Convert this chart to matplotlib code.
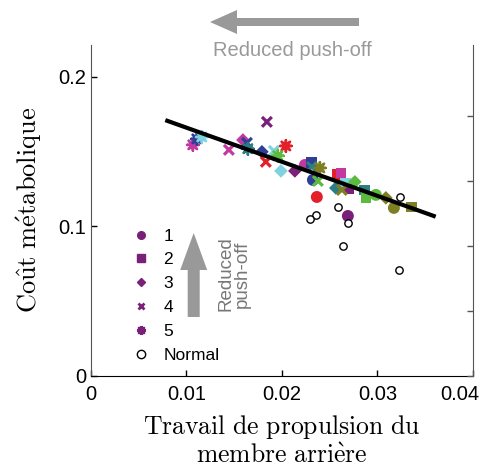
import matplotlib.pyplot as plt
import matplotlib.patches as mpatches
import matplotlib.transforms as mtransforms
from matplotlib.lines import Line2D

plt.rcParams['font.family'] = ['Liberation Sans', 'DejaVu Sans']
plt.rcParams['mathtext.fontset'] = 'cm'

# subject colours
magenta = '#c23a9f'
darkblue = '#2f3e98'
lightblue = '#80d2df'
teal = '#2b7f84'
red = '#e3202a'
green = '#5cbb3e'
olive = '#7e7e22'
purple = '#7b2079'

# condition 1 (circles)
c1_x = [0.02241, 0.02325, 0.02366, 0.02984, 0.03173, 0.02691]
c1_y = [0.1409, 0.1309, 0.1195, 0.1209, 0.1122, 0.1068]
c1_col = [magenta, darkblue, red, green, olive, purple]

# condition 2 (squares)
c2_x = [0.02576, 0.02618, 0.02314, 0.02670, 0.02702, 0.02869, 0.02880, 0.03361]
c2_y = [0.1343, 0.1356, 0.1423, 0.1288, 0.1249, 0.1242, 0.1189, 0.1128]
c2_col = [red, magenta, darkblue, lightblue, purple, teal, green, olive]

# condition 3 (diamonds)
c3_x = [0.01592, 0.01791, 0.01990, 0.02136, 0.02565, 0.02764, 0.03089]
c3_y = [0.1576, 0.1497, 0.1369, 0.1369, 0.1255, 0.1296, 0.1189]
c3_col = [magenta, darkblue, lightblue, purple, teal, green, olive]

# condition 4 (crosses)
c4_x = [0.01445, 0.01843, 0.01832, 0.01916, 0.02314, 0.02377, 0.02628, 0.01634]
c4_y = [0.1510, 0.1697, 0.1430, 0.1503, 0.1396, 0.1302, 0.1242, 0.1557]
c4_col = [magenta, purple, red, lightblue, teal, green, olive, darkblue]

# condition 5 (asterisks)
c5_x = [0.01068, 0.01110, 0.01162, 0.01644, 0.02042, 0.01958, 0.02398]
c5_y = [0.1543, 0.1583, 0.1596, 0.1517, 0.1536, 0.1470, 0.1389]
c5_col = [magenta, darkblue, lightblue, teal, red, green, olive]

# normal walking
normal_x = [0.03236, 0.02586, 0.02356, 0.02293, 0.02691, 0.02639, 0.03225]
normal_y = [0.1196, 0.1128, 0.1073, 0.1048, 0.1021, 0.0868, 0.0708]

# regression line
fit_x = [0.0080, 0.0359]
fit_y = [0.1704, 0.1068]

fig = plt.figure(figsize=(4.86, 4.72), dpi=100)
ax = fig.add_axes([0.187, 0.204, 0.786, 0.701])

ax.scatter(c1_x, c1_y, c=c1_col, marker='o', s=74, linewidths=0)
ax.scatter(c2_x, c2_y, c=c2_col, marker='s', s=60, linewidths=0)
ax.scatter(c3_x, c3_y, c=c3_col, marker='D', s=48, linewidths=0)
ax.scatter(c4_x, c4_y, c=c4_col, marker='x', s=50, linewidths=2.3)
ax.scatter(c5_x, c5_y, c=c5_col, marker=(8, 2, 0), s=70, linewidths=1.8)
ax.scatter(normal_x, normal_y, facecolors='white', edgecolors='black',
           marker='o', s=28, linewidths=1, zorder=3)
ax.plot(fit_x, fit_y, color='black', lw=3, zorder=4)

ax.set_xlim(0, 0.04)
ax.set_ylim(0, 0.2212)
ax.set_xticks([0, 0.01, 0.02, 0.03, 0.04])
ax.set_xticklabels(['0', '0.01', '0.02', '0.03', '0.04'])
ax.set_yticks([0, 0.1, 0.2])
ax.set_yticklabels(['0', '0.1', '0.2'])
ax.tick_params(direction='in', labelsize=14.5, length=4.5, width=1)
ax.tick_params(axis='x', pad=7)
ax.spines['top'].set_visible(False)
ax.spines['right'].set_visible(False)
ax.spines['left'].set_color('#555555')

# last x label sits a bit left of its tick so it stays in the picture
last = ax.get_xticklabels()[-1]
last.set_transform(last.get_transform() +
                   mtransforms.ScaledTranslation(-0.13, 0, fig.dpi_scale_trans))

ax2 = ax.twinx()
ax2.set_ylim(0, 5.09)
ax2.set_yticks([0, 1, 2, 3, 4])
ax2.set_yticklabels([])
ax2.tick_params(direction='in', length=4.5, width=1, colors='#555555')
ax2.spines['top'].set_visible(False)
ax2.spines['left'].set_visible(False)
ax2.spines['bottom'].set_visible(False)
ax2.spines['right'].set_color('#555555')

ax.set_ylabel(r'$\mathrm{Co\hat{u}t\ m\acute{e}tabolique}$', fontsize=19, labelpad=10)
ax.set_xlabel(r'$\mathrm{Travail\ de\ propulsion\ du}$' + '\n' +
              r'$\mathrm{membre\ arri\grave{e}re}$', fontsize=18.5, labelpad=6,
              linespacing=1.15)

# legend
handles = [
    Line2D([], [], ls='', marker='o', color=purple, ms=5.5),
    Line2D([], [], ls='', marker='s', color=purple, ms=5.5),
    Line2D([], [], ls='', marker='D', color=purple, ms=4.5),
    Line2D([], [], ls='', marker='x', color=purple, ms=4.5, mew=2),
    Line2D([], [], ls='', marker=(8, 2, 0), color=purple, ms=6.5, mew=1.5),
    Line2D([], [], ls='', marker='o', mfc='white', mec='black', ms=6, mew=1),
]
labels = ['1', '2', '3', '4', '5', 'Normal']
fig.legend(handles, labels, loc='upper left', bbox_to_anchor=(0.272, 0.516),
           frameon=False, fontsize=12.5, handlelength=1.0, handletextpad=0.8,
           labelspacing=0.5, borderpad=0, borderaxespad=0)

# arrows and annotations
top_arrow = mpatches.FancyArrow(3.59, 4.50, -1.22, 0, width=0.08,
                                head_width=0.24, head_length=0.27,
                                length_includes_head=False,
                                transform=fig.dpi_scale_trans,
                                color='#999999', lw=0)
fig.add_artist(top_arrow)
fig.text(292 / 486, 1 - 50 / 472, 'Reduced push-off', color='#999999',
         fontsize=14.5, ha='center', va='center')

side_arrow = mpatches.FancyArrow(1.937, 4.72 - 3.17, 0, 0.47, width=0.12,
                                 head_width=0.27, head_length=0.37,
                                 length_includes_head=False,
                                 transform=fig.dpi_scale_trans,
                                 color='#999999', lw=0)
fig.add_artist(side_arrow)
fig.text(234 / 486, 1 - 274 / 472, 'Reduced\npush-off', color='#777777',
         fontsize=13.5, rotation=90, ha='center', va='center', linespacing=1.0)

fig.savefig('out.png', dpi=100)
